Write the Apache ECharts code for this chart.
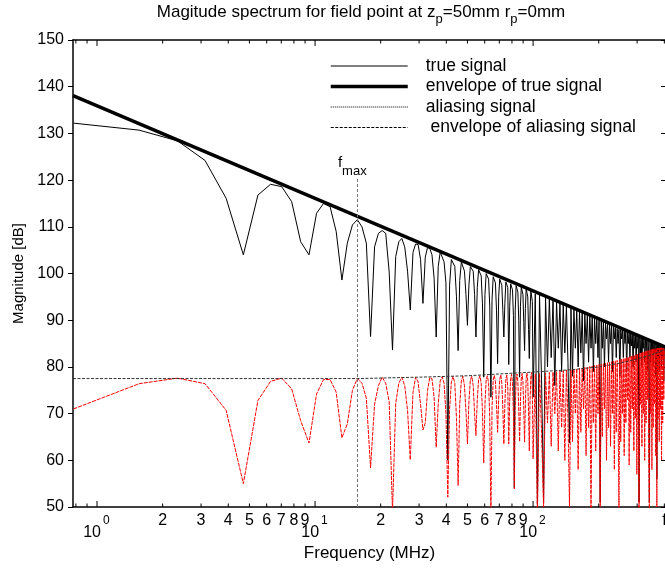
<!DOCTYPE html>
<html><head><meta charset="utf-8">
<script src="https://cdn.jsdelivr.net/npm/echarts@6/dist/echarts.min.js"></script>
<style>html,body{margin:0;padding:0;background:#fff}#c{width:665px;height:568px}</style>
</head><body><div id="c"></div>
<script>
// ---------------- data ----------------
const freqMHz = [
0.78,1.56,2.34,3.13,3.91,4.69,5.47,6.25,7.03,7.81,
8.59,9.38,10.16,10.94,11.72,12.5,13.28,14.06,14.84,15.63,
16.41,17.19,17.97,18.75,19.53,20.31,21.09,21.88,22.66,23.44,
24.22,25,25.78,26.56,27.34,28.13,28.91,29.69,30.47,31.25,
32.03,32.81,33.59,34.38,35.16,35.94,36.72,37.5,38.28,39.06,
39.84,40.63,41.41,42.19,42.97,43.75,44.53,45.31,46.09,46.88,
47.66,48.44,49.22,50,50.78,51.56,52.34,53.13,53.91,54.69,
55.47,56.25,57.03,57.81,58.59,59.38,60.16,60.94,61.72,62.5,
63.28,64.06,64.84,65.63,66.41,67.19,67.97,68.75,69.53,70.31,
71.09,71.88,72.66,73.44,74.22,75,75.78,76.56,77.34,78.13,
78.91,79.69,80.47,81.25,82.03,82.81,83.59,84.38,85.16,85.94,
86.72,87.5,88.28,89.06,89.84,90.63,91.41,92.19,92.97,93.75,
94.53,95.31,96.09,96.88,97.66,98.44,99.22,100,
102.34,104.69,107.03,109.38,111.72,114.06,116.41,118.75,121.09,123.44,
125.78,128.13,130.47,132.81,135.16,137.5,139.84,142.19,144.53,146.88,
149.22,151.56,153.91,156.25,158.59,160.94,163.28,165.63,167.97,170.31,
172.66,175,177.34,179.69,182.03,184.38,186.72,189.06,191.41,193.75,
196.09,198.44,200.78,203.13,205.47,207.81,210.16,212.5,214.84,217.19,
219.53,221.88,224.22,226.56,228.91,231.25,233.59,235.94,238.28,240.63,
242.97,245.31,247.66,250,252.34,254.69,257.03,259.38,261.72,264.06,
266.41,268.75,271.09,273.44,275.78,278.13,280.47,282.81,285.16,287.5,
289.84,292.19,294.53,296.88,299.22,301.56,303.91,306.25,308.59,310.94,
313.28,315.63,317.97,320.31,322.66,325,327.34,329.69,332.03,334.38,
336.72,339.06,341.41,343.75,346.09,348.44,350.78,353.13,355.47,357.81,
360.16,362.5,364.84,367.19,369.53,371.88,374.22,376.56,378.91,381.25,
383.59,385.94,388.28,390.63,392.97,395.31,397.66,400
];
const trueSignal = [
132.2,130.7,128.4,124.2,116.1,104.0,116.8,119.1,118.6,115.4,
106.8,104.0,112.9,115.0,114.3,109.0,98.6,106.5,110.4,111.5,
110.0,106.5,86.5,105.7,108.6,109.2,108.6,100.3,83.6,103.6,
106.8,107.5,105.7,100.5,92.2,104.5,106.3,106.2,103.0,93.6,
103.5,105.6,105.4,104.0,99.0,86.4,101.5,104.6,104.3,102.5,
98.0,60.0,97.5,103.0,103.4,101.5,95.0,83.5,98.5,102.5,
102.5,100.5,95.5,88.9,97.5,101.5,101.7,100.5,95.5,86.4,
97.0,100.8,101.0,99.5,93.5,77.8,95.5,100.0,100.3,98.8,
93.0,73.5,94.5,99.3,99.7,98.0,92.0,80.7,95.0,98.8,
99.1,97.5,92.0,86.4,93.5,98.2,98.6,97.0,80.5,93.0,
97.8,98.1,96.5,91.0,54.0,92.0,97.4,97.7,96.0,90.0,
77.8,93.0,97.1,97.2,95.5,89.5,83.5,92.5,96.7,96.8,
95.0,88.0,81.8,92.0,96.3,96.4,94.0,73.5,
95.6,50.5,95.4,77.0,51.0,95.0,80.0,94.6,82.0,94.3,
76.0,94.0,84.0,93.6,79.0,93.3,83.0,93.0,81.0,63.7,
92.6,78.0,92.4,84.0,92.1,80.0,91.9,83.0,91.6,77.0,
91.4,85.0,91.1,81.0,90.9,84.0,90.7,79.0,90.4,85.0,
90.2,82.0,90.0,51.0,89.8,84.0,89.6,80.0,89.4,86.0,
89.2,81.0,89.0,85.0,88.8,79.0,88.6,86.0,88.4,82.0,
88.2,85.0,88.0,78.0,88.0,86.0,87.9,82.0,87.8,85.0,
87.7,79.0,87.5,85.0,87.4,82.0,87.3,84.5,87.2,80.0,
87.0,84.0,86.9,81.0,86.7,84.0,86.6,51.0,86.4,83.0,
86.3,80.0,86.1,84.0,86.0,81.0,85.9,83.5,85.7,79.0,
85.6,83.0,51.0,85.4,81.0,85.3,83.5,85.2,80.0,85.1,
83.0,85.0,78.0,84.9,56.0,84.8,82.0,84.6,79.0,84.5,
82.5,84.5,80.0,84.4,82.0,84.3,77.0,84.2
];
const aliasSignal = [
71.0,76.4,77.6,76.4,70.7,55.0,72.8,76.9,77.6,75.3,
68.5,63.7,74.2,77.3,77.3,74.6,64.8,67.8,75.0,77.5,
76.5,73.3,58.4,72.0,76.0,77.8,76.5,72.5,49.0,72.2,
76.5,77.8,76.0,70.7,60.1,74.5,77.8,76.8,72.0,66.5,
68.0,75.0,77.7,77.5,73.5,62.8,72.0,77.0,77.9,76.5,
70.0,52.1,71.0,76.8,78.0,76.5,69.0,54.6,72.0,77.0,
78.0,76.0,70.5,63.5,72.5,77.2,78.0,76.0,70.0,65.3,
73.0,77.3,78.1,76.5,70.5,59.4,72.0,77.3,78.1,76.5,
69.0,48.0,71.5,77.2,78.2,76.8,72.0,66.0,73.0,77.3,
78.3,76.5,71.0,63.5,72.0,77.4,78.3,75.5,63.5,73.0,
77.5,78.4,76.5,70.0,53.9,71.0,77.4,78.5,76.8,71.0,
64.0,72.5,77.6,78.6,76.8,71.0,63.9,72.0,77.6,78.7,
77.0,70.5,62.0,73.0,78.0,78.8,75.0,60.3,
78.5,48.0,78.6,66.0,50.0,78.7,68.0,78.8,63.0,78.9,
70.0,79.0,62.0,79.1,67.0,79.2,60.0,79.3,69.0,50.0,
79.4,64.0,79.5,70.0,79.6,58.0,79.7,66.0,79.8,71.0,
79.9,61.0,80.0,67.0,80.1,49.0,80.2,68.0,80.3,62.0,
80.4,70.0,80.5,50.0,80.6,65.0,80.7,71.0,80.8,60.0,
80.9,67.0,81.0,63.0,81.1,70.0,81.2,58.0,81.3,66.0,
81.4,72.0,49.0,81.6,64.0,81.7,70.0,81.8,61.0,81.9,
68.0,82.0,73.0,82.1,59.0,82.2,66.0,82.3,71.0,82.4,
62.0,82.5,69.0,82.6,57.0,82.7,67.0,48.0,82.9,72.0,
83.0,63.0,83.1,70.0,83.2,60.0,83.3,68.0,83.4,73.0,
83.5,62.0,48.0,83.6,70.0,83.7,58.0,83.8,67.0,83.9,
72.0,83.9,61.0,84.0,50.0,84.0,69.0,84.0,64.0,84.1,
71.0,84.1,60.0,84.1,68.0,84.2,73.0,84.2
];
const trueEnvFreq = [0.776, 407];
const trueEnvValue = [138.1, 84.2];
const aliasEnvFreq = [0.776, 15.63, 30, 50, 100, 150, 200, 250, 300, 350, 407];
const aliasEnvValue = [77.5, 77.5, 77.8, 78.1, 78.9, 79.4, 80.0, 80.8, 81.7, 82.6, 83.8];
const fMax = 15.625;
const fMaxTop = 120.3;
const majorTicks = [1, 10, 100];
const majorExponents = ['0', '1', '2'];
const minorTicks = [0.8,0.9,2,3,4,5,6,7,8,9,20,30,40,50,60,70,80,90,200,300,400];
const minorLabels = ['','','2','3','4','5','6','7','8','9','2','3','4','5','6','7','8','9','','','f'];
const yMin = 50, yMax = 150, yStep = 10;
const xMin = 0.776, xMax = 407;

// ---------------- chart ----------------
const FONT = '"Liberation Sans", Arial, sans-serif';
const pairs = (xs, ys) => xs.map((x, i) => [x, ys[i]]);
const tickData = minorTicks.map((v, i) => [v, 0, i]).concat(majorTicks.map((v, i) => [v, 1, i]));
const noSymbol = {opacity: 0};

const chart = echarts.init(document.getElementById('c'), null, {renderer: 'canvas'});
chart.setOption({
  animation: false,
  backgroundColor: '#fff',
  graphic: [{
    type: 'text', x: 361, y: 3.5,
    style: {
      text: '{a|Magitude spectrum for field point at z}{s|p}{a|=50mm r}{s|p}{a|=0mm}',
      align: 'center', verticalAlign: 'top',
      rich: {
        a: {fontSize: 17, fontFamily: FONT, color: '#000', lineHeight: 17, verticalAlign: 'top'},
        s: {fontSize: 13, fontFamily: FONT, color: '#000', lineHeight: 22, verticalAlign: 'bottom'}
      }
    }
  }],
  grid: {left: 73, top: 40, width: 593, height: 467, containLabel: false, outerBoundsMode: 'none'},
  legend: {
    orient: 'vertical', left: 329, top: 57, padding: 0,
    itemWidth: 77, itemHeight: 14, itemGap: 2.5,
    itemStyle: noSymbol,
    textStyle: {fontSize: 17.5, fontFamily: FONT, color: '#000', lineHeight: 16, padding: [0, 0, 0, 13]},
    data: [
      {name: 'true signal', itemStyle: noSymbol, lineStyle: {color: '#000', width: 1}},
      {name: 'envelope of true signal', itemStyle: noSymbol, lineStyle: {color: '#000', width: 3.5}},
      {name: 'aliasing signal', itemStyle: noSymbol, lineStyle: {color: '#000', width: 1, type: [1, 1]}},
      {name: ' envelope of aliasing signal', itemStyle: noSymbol, lineStyle: {color: '#000', width: 1, type: [3, 1.5]}}
    ]
  },
  xAxis: [{
    type: 'log', logBase: 10, min: xMin, max: xMax, position: 'bottom',
    name: 'Frequency (MHz)', nameLocation: 'middle', nameGap: 38,
    nameTextStyle: {fontSize: 17, fontFamily: FONT, color: '#000'},
    axisLine: {show: true, lineStyle: {color: '#000', width: 1.5}},
    axisTick: {show: false}, axisLabel: {show: false}, splitLine: {show: false}, minorTick: {show: false}
  }, {
    type: 'log', logBase: 10, min: xMin, max: xMax, position: 'top',
    axisLine: {show: true, lineStyle: {color: '#000', width: 1.5}},
    axisTick: {show: false}, axisLabel: {show: false}, splitLine: {show: false}
  }],
  yAxis: [{
    type: 'value', min: yMin, max: yMax, interval: yStep, position: 'left',
    name: 'Magnitude [dB]', nameLocation: 'middle', nameGap: 47,
    nameTextStyle: {fontSize: 15, fontFamily: FONT, color: '#000'},
    axisLine: {show: true, lineStyle: {color: '#000', width: 1.5}},
    axisTick: {show: true, inside: false, length: 5, lineStyle: {color: '#000'}},
    axisLabel: {fontSize: 16, fontFamily: FONT, color: '#000', margin: 9},
    splitLine: {show: false}
  }, {
    type: 'value', min: yMin, max: yMax, interval: yStep, position: 'right',
    axisLine: {show: true, lineStyle: {color: '#000', width: 1.5}},
    axisTick: {show: true, inside: true, length: 5, lineStyle: {color: '#000'}},
    axisLabel: {show: false}, splitLine: {show: false}
  }],
  series: [{
    name: 'true signal', type: 'line', symbol: 'none', clip: true,
    data: pairs(freqMHz, trueSignal),
    lineStyle: {color: '#000', width: 1}, itemStyle: {color: '#000'}, z: 2
  }, {
    name: 'aliasing signal', type: 'line', symbol: 'none', clip: true,
    data: pairs(freqMHz, aliasSignal),
    lineStyle: {color: '#ff0000', width: 1, type: [4, 1]}, itemStyle: {color: '#ff0000'}, z: 3
  }, {
    name: 'envelope of true signal', type: 'line', symbol: 'none', clip: true,
    data: pairs(trueEnvFreq, trueEnvValue),
    lineStyle: {color: '#000', width: 3.5}, itemStyle: {color: '#000'}, z: 4
  }, {
    name: ' envelope of aliasing signal', type: 'line', symbol: 'none', clip: true,
    data: pairs(aliasEnvFreq, aliasEnvValue),
    lineStyle: {color: '#333', width: 1, type: [3, 1.5]}, itemStyle: {color: '#000'}, z: 4,
    markLine: {
      silent: true, symbol: 'none', animation: false,
      lineStyle: {color: '#777', width: 1, type: [3, 2]},
      label: {
        show: true, position: 'end', distance: 1, padding: [0, 10, 0, 0],
        formatter: '{f|f}{m|max}',
        rich: {
          f: {fontSize: 15, fontFamily: FONT, color: '#000', lineHeight: 15, verticalAlign: 'top'},
          m: {fontSize: 13, fontFamily: FONT, color: '#000', lineHeight: 22, verticalAlign: 'bottom'}
        }
      },
      data: [[{coord: [fMax, yMin]}, {coord: [fMax, fMaxTop]}]]
    }
  }, {
    name: 'ticks', type: 'custom', silent: true, clip: false, z: 10,
    encode: {x: 0, y: 1},
    data: tickData,
    renderItem: function (params, api) {
      const v = api.value(0), major = api.value(1), i = api.value(2);
      const b = api.coord([v, yMin]);
      const t = api.coord([v, yMax]);
      const len = major ? 6 : 3.5;
      const ch = [
        {type: 'line', shape: {x1: b[0], y1: b[1], x2: b[0], y2: b[1] - len}, style: {stroke: '#000', lineWidth: 1}},
        {type: 'line', shape: {x1: t[0], y1: t[1], x2: t[0], y2: t[1] + len}, style: {stroke: '#000', lineWidth: 1}}
      ];
      if (major) {
        ch.push({type: 'text', x: b[0] + 4, y: b[1] + 26,
          style: {text: '10', align: 'right', verticalAlign: 'middle', font: '16px ' + FONT, fill: '#000'}});
        ch.push({type: 'text', x: b[0] + 6, y: b[1] + 14,
          style: {text: majorExponents[i], align: 'left', verticalAlign: 'middle', font: '12px ' + FONT, fill: '#000'}});
      } else if (minorLabels[i]) {
        ch.push({type: 'text', x: b[0], y: b[1] + 14,
          style: {text: minorLabels[i], align: 'center', verticalAlign: 'middle', font: '16px ' + FONT, fill: '#000'}});
      }
      return {type: 'group', children: ch};
    }
  }]
});
</script>
</body></html>
